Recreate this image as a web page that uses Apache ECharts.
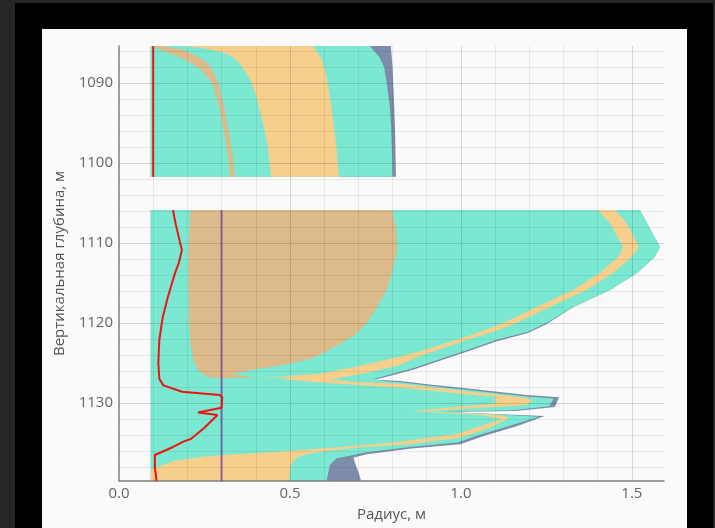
<!DOCTYPE html>
<html>
<head>
<meta charset="utf-8">
<script src="https://cdn.jsdelivr.net/npm/echarts@6/dist/echarts.min.js"></script>
<style>
  html,body{margin:0;padding:0;background:#262626;width:715px;height:528px;overflow:hidden;}
  #frame{position:absolute;left:15px;top:3px;width:698px;height:525px;background:#000;}
  #c{position:absolute;left:42px;top:29px;width:645px;height:499px;background:#fafafa;}
</style>
</head>
<body>
<div id="frame"></div>
<div id="c"></div>
<script>
// ---------- data: [radius (m), depth (m)] ----------
const axisX = { min: 0, max: 1.594, step: 0.5 };
const axisY = { min: 1085.4, max: 1139.75 };
const wallR = 0.093;
const upTop = 1085.4, upBottom = 1101.75;

// upper interval boundaries (outer edge of each layer)
const upBlueEdge   = [[0.795,1085.4],[0.80,1088],[0.805,1093],[0.808,1097],[0.81,1101.75]];
const upTealEdge   = [[0.734,1085.4],[0.763,1086.9],[0.775,1088],[0.783,1090],[0.792,1093],[0.796,1095.5],[0.798,1098],[0.80,1101.75]];
const upOrangeOut  = [[0.567,1085.4],[0.582,1086.3],[0.593,1087.1],[0.60,1088],[0.61,1090],[0.62,1092.5],[0.627,1095],[0.636,1098],[0.643,1101.75]];
const upOrangeIn   = [[0.19,1085.4],[0.25,1085.7],[0.304,1086.2],[0.34,1087],[0.36,1088],[0.383,1089.6],[0.40,1091.5],[0.421,1095],[0.435,1098],[0.445,1101.75]];
const upTanOut     = [[0.13,1085.4],[0.19,1085.9],[0.225,1086.6],[0.255,1087.4],[0.272,1088.3],[0.29,1090],[0.307,1093],[0.322,1096.3],[0.334,1099.6],[0.339,1101.75]];
const upTanIn      = [[0.10,1085.45],[0.12,1085.9],[0.165,1086.6],[0.205,1087.4],[0.24,1088.4],[0.272,1090],[0.293,1093],[0.308,1096.3],[0.32,1099.6],[0.325,1101.75]];

// lower interval polygons
const lowBlue = [[0.093,1105.9],[1.523,1105.9],[1.544,1107.5],[1.582,1110.5],[1.567,1111.75],[1.515,1113.75],[1.436,1115.9],[1.328,1118.05],[1.25,1120.15],[1.196,1121.25],[1.105,1122.3],[1.017,1123.6],[0.958,1124.45],[0.86,1125.85],[0.80,1126.55],[0.747,1127.1],[0.78,1127.15],[0.822,1127.25],[0.909,1127.68],[1.035,1128.27],[1.192,1129.0],[1.287,1129.3],[1.275,1130.5],[1.16,1131.0],[0.95,1131.12],[1.10,1131.38],[1.245,1131.62],[1.163,1132.9],[1.062,1134.2],[0.998,1135.15],[0.855,1135.7],[0.725,1136.4],[0.686,1136.8],[0.69,1137.5],[0.70,1138.6],[0.708,1139.75],[0.093,1139.75]];
const lowTeal = [[0.093,1105.9],[1.523,1105.9],[1.544,1107.5],[1.582,1110.5],[1.567,1111.75],[1.515,1113.75],[1.436,1115.9],[1.328,1118],[1.25,1120],[1.196,1121.1],[1.105,1122.1],[1.017,1123.4],[0.958,1124.25],[0.86,1125.65],[0.80,1126.35],[0.745,1127.0],[0.78,1127.3],[0.822,1127.42],[0.909,1127.85],[1.035,1128.45],[1.192,1129.2],[1.272,1129.45],[1.258,1130.4],[1.153,1130.9],[0.95,1131.1],[1.10,1131.42],[1.228,1131.72],[1.15,1132.75],[1.053,1134],[0.99,1134.95],[0.85,1135.5],[0.72,1136.2],[0.675,1136.6],[0.636,1136.9],[0.617,1137.75],[0.607,1139.75],[0.093,1139.75]];
const lowOrange = [[0.093,1105.9],[1.45,1105.9],[1.485,1107.5],[1.521,1110.5],[1.50,1111.75],[1.445,1113.75],[1.368,1115.9],[1.26,1118],[1.163,1120],[1.095,1121.1],[1.02,1122.1],[0.93,1123.4],[0.87,1124.3],[0.82,1125.3],[0.72,1126.3],[0.64,1126.9],[0.62,1127.05],[0.66,1127.25],[0.70,1127.38],[0.822,1127.6],[0.909,1128.0],[1.035,1128.62],[1.10,1128.92],[1.19,1129.35],[1.21,1129.7],[1.19,1130.3],[1.10,1130.5],[0.90,1131.0],[1.12,1131.55],[1.14,1131.9],[1.085,1133.1],[1.0,1134.3],[0.85,1135.15],[0.702,1135.55],[0.607,1136.0],[0.549,1136.4],[0.52,1136.8],[0.502,1137.75],[0.497,1139.75],[0.093,1139.75]];
const lowTealIn = [[0.093,1105.9],[1.40,1105.9],[1.436,1107.5],[1.474,1110.5],[1.46,1111.75],[1.406,1113.75],[1.328,1115.9],[1.222,1118],[1.123,1120],[1.056,1121.1],[0.988,1122.1],[0.89,1123.4],[0.812,1124.3],[0.70,1125.4],[0.58,1126.4],[0.47,1127.0],[0.58,1127.4],[0.70,1127.75],[0.822,1128.1],[0.909,1128.45],[1.035,1129.0],[1.10,1129.2],[1.10,1130.1],[0.98,1130.5],[0.86,1131.0],[1.05,1131.5],[1.12,1132.0],[0.985,1133.9],[0.80,1134.95],[0.70,1135.3],[0.549,1135.85],[0.403,1136.25],[0.256,1136.65],[0.159,1137.25],[0.095,1138.3],[0.093,1138.4]];
const lowTongue = [[0.40,1126.95],[0.52,1126.55],[0.62,1126.25],[0.62,1126.45],[0.52,1126.75]];
const lowTan = [[0.208,1105.9],[0.798,1105.9],[0.81,1108],[0.813,1110.9],[0.80,1113.5],[0.783,1115.9],[0.755,1118],[0.725,1120],[0.69,1121.5],[0.64,1122.8],[0.567,1124.4],[0.49,1125.2],[0.40,1125.8],[0.33,1126.4],[0.40,1126.8],[0.30,1126.95],[0.26,1126.8],[0.235,1126.1],[0.218,1124.8],[0.209,1122.5],[0.205,1120],[0.203,1115],[0.203,1110.9]];

// lines
const redUpper = [[0.10,1085.4],[0.10,1101.75]];
const redLower = [[0.158,1105.9],[0.165,1107.5],[0.176,1109.5],[0.184,1110.9],[0.175,1112.5],[0.164,1113.75],[0.143,1116.75],[0.128,1119.25],[0.118,1122.1],[0.115,1125],[0.118,1127.0],[0.13,1127.8],[0.184,1128.6],[0.295,1129.0],[0.302,1129.3],[0.30,1130.6],[0.231,1131.2],[0.288,1131.5],[0.25,1133.1],[0.21,1134.5],[0.19,1134.8],[0.158,1135.5],[0.105,1136.5],[0.105,1138.1],[0.11,1139.75]];
const purpleLine = [[0.30,1105.9],[0.30,1139.75]];

// ---------- colours ----------
const C = { teal:'#7be8d2', orange:'#f6cf8d', tan:'#dcba89', blue:'#7d8cab', red:'#ee1414', purple:'rgba(112,62,160,0.75)' };

function fillTo(edge, top, bottom){
  return [[wallR, top]].concat(edge).concat([[wallR, bottom]]);
}
function poly(pts, color){
  return {
    type:'custom', coordinateSystem:'cartesian2d', data:[[0.5,1100]], z:2, silent:true, animation:false,
    renderItem:(params, api)=>({type:'polygon', shape:{points: pts.map(p=>api.coord(p))}, style:{fill:color}})
  };
}
function line(pts, color, w){
  return {type:'line', data:pts, showSymbol:false, symbol:'none', z:8, silent:true, animation:false,
          lineStyle:{color:color, width:w}};
}

const font = 'Open Sans';
const series = [
  poly(fillTo(upBlueEdge, upTop, upBottom), C.blue),
  poly(fillTo(upTealEdge, upTop, upBottom), C.teal),
  poly(fillTo(upOrangeOut, upTop, upBottom), C.orange),
  poly(fillTo(upOrangeIn, upTop, upBottom), C.teal),
  poly(fillTo(upTanOut, upTop, upBottom), C.tan),
  poly(fillTo(upTanIn, upTop, upBottom), C.teal),
  poly(lowBlue, C.blue),
  poly(lowTeal, C.teal),
  poly(lowOrange, C.orange),
  poly(lowTealIn, C.teal),
  poly(lowTongue, C.orange),
  poly(lowTan, C.tan),
  line(redUpper, C.red, 2),
  line(purpleLine, C.purple, 2),
  line(redLower, C.red, 2)
];

const chart = echarts.init(document.getElementById('c'), null, {renderer:'canvas'});
chart.setOption({
  animation:false,
  backgroundColor:'#fafafa',
  grid:{left:77, top:17, width:545, height:435, containLabel:false},
  xAxis:{
    type:'value', min:axisX.min, max:axisX.max, interval:axisX.step, z:5,
    name:'Радиус, м', nameLocation:'middle', nameGap:26,
    nameTextStyle:{color:'#555', fontSize:15, fontFamily:font},
    axisLine:{show:true, lineStyle:{color:'#7f7f7f', width:1.5}},
    axisTick:{show:false},
    minorTick:{show:false, splitNumber:5},
    axisLabel:{color:'#666', fontSize:15, fontFamily:font, margin:5, showMaxLabel:false,
               formatter:v=>v.toFixed(1)},
    splitLine:{show:true, showMinLine:false, showMaxLine:false, lineStyle:{color:'rgba(0,0,0,0.14)', width:1}},
    minorSplitLine:{show:true, lineStyle:{color:'rgba(0,0,0,0.07)', width:1}}
  },
  yAxis:{
    type:'value', min:axisY.min, max:axisY.max, inverse:true, z:5,
    name:'Вертикальная глубина, м', nameLocation:'middle', nameGap:52, nameRotate:90,
    nameTextStyle:{color:'#555', fontSize:15, fontFamily:font},
    axisLine:{show:true, lineStyle:{color:'#7f7f7f', width:1.5}},
    axisTick:{show:false},
    minorTick:{show:false, splitNumber:5},
    axisLabel:{color:'#666', fontSize:15, fontFamily:font, margin:6, showMinLabel:false, showMaxLabel:false,
               formatter:v=>String(Math.round(v))},
    splitLine:{show:true, showMinLine:false, showMaxLine:false, lineStyle:{color:'rgba(0,0,0,0.14)', width:1}},
    minorSplitLine:{show:true, lineStyle:{color:'rgba(0,0,0,0.07)', width:1}}
  },
  series: series
});
</script>
</body>
</html>
